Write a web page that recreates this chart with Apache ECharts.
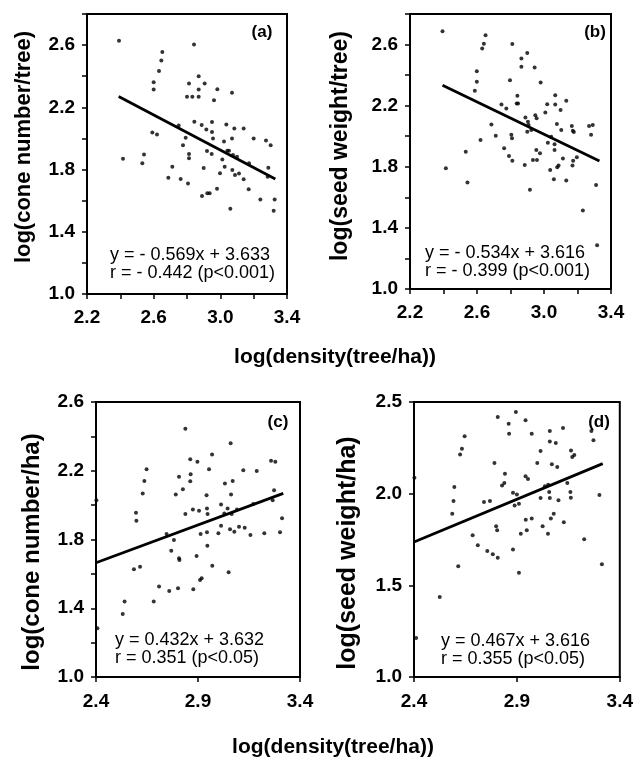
<!DOCTYPE html>
<html>
<head>
<meta charset="utf-8">
<script src="https://cdn.jsdelivr.net/npm/echarts@6/dist/echarts.min.js"></script>
<style>html,body{margin:0;padding:0;background:#fff;}#c{width:636px;height:757px;}</style>
</head>
<body>
<div id="c"></div>
<script>
// (a) log(cone number/tree) vs log(density)
var pointsA = [[2.392,2.628],[2.416,1.870],[2.532,1.840],[2.542,1.897],[2.592,2.039],[2.620,2.026],[2.600,2.362],[2.600,2.315],[2.632,2.433],[2.646,2.501],[2.652,2.555],[2.688,1.747],[2.712,1.818],[2.750,2.084],[2.762,1.739],[2.776,1.957],[2.792,2.004],[2.806,1.711],[2.812,1.900],[2.812,1.872],[2.800,2.268],[2.812,2.354],[2.832,2.268],[2.842,2.604],[2.844,2.107],[2.870,2.400],[2.870,2.315],[2.870,2.268],[2.890,1.630],[2.888,2.086],[2.900,1.810],[2.906,2.354],[2.916,2.058],[2.920,1.919],[2.922,1.647],[2.936,1.647],[2.948,1.900],[2.950,2.105],[2.950,2.041],[2.956,2.000],[2.962,2.246],[2.980,1.677],[2.982,2.317],[2.998,1.777],[3.012,1.865],[3.022,1.981],[3.026,1.818],[3.036,2.090],[3.042,1.921],[3.052,1.921],[3.060,1.548],[3.070,2.294],[3.070,2.000],[3.072,1.797],[3.076,1.893],[3.084,2.064],[3.088,1.765],[3.100,1.882],[3.112,1.775],[3.140,2.064],[3.140,1.737],[3.170,1.673],[3.172,1.840],[3.200,2.000],[3.240,1.608],[3.274,1.987],[3.284,1.754],[3.288,1.812],[3.302,1.957],[3.320,1.535],[3.326,1.608]];
var lineA = [[2.39,2.270],[3.33,1.740]];
// (b) log(seed weight/tree)
var pointsB = [[2.394,2.687],[2.414,1.790],[2.533,1.899],[2.543,1.697],[2.587,2.297],[2.599,2.356],[2.599,2.426],[2.621,1.975],[2.631,2.574],[2.641,2.606],[2.651,2.661],[2.686,2.077],[2.712,2.003],[2.746,2.208],[2.762,1.921],[2.775,2.182],[2.791,1.871],[2.797,2.367],[2.805,2.010],[2.809,1.986],[2.811,2.604],[2.811,1.840],[2.837,2.215],[2.841,2.265],[2.845,2.215],[2.865,2.508],[2.865,2.454],[2.885,1.812],[2.889,2.123],[2.900,2.545],[2.904,2.095],[2.908,2.073],[2.900,2.030],[2.916,1.649],[2.924,2.040],[2.934,1.845],[2.944,2.450],[2.948,2.138],[2.956,2.117],[2.954,1.910],[2.958,1.845],[2.976,1.888],[2.980,2.352],[3.008,2.156],[3.019,2.210],[3.023,1.958],[3.037,1.779],[3.043,1.997],[3.059,1.718],[3.063,1.947],[3.063,1.910],[3.067,2.269],[3.067,2.208],[3.077,2.080],[3.079,1.797],[3.087,1.808],[3.099,2.171],[3.103,2.040],[3.113,1.855],[3.133,2.232],[3.133,1.710],[3.166,2.067],[3.172,2.036],[3.174,1.840],[3.170,1.808],[3.178,2.027],[3.196,1.862],[3.232,1.514],[3.269,2.067],[3.281,2.010],[3.291,2.073],[3.311,1.681],[3.317,1.287]];
var lineB = [[2.394,2.334],[3.331,1.838]];
// (c) log(cone number/ha)
var pointsC = [[2.407,1.284],[2.402,2.029],[2.531,1.366],[2.540,1.439],[2.586,1.627],[2.616,1.642],[2.596,1.956],[2.598,1.909],[2.629,2.068],[2.637,2.141],[2.648,2.209],[2.683,1.439],[2.709,1.526],[2.759,1.501],[2.746,1.832],[2.769,1.735],[2.782,1.797],[2.791,2.062],[2.802,1.517],[2.807,2.165],[2.807,1.691],[2.809,1.681],[2.826,2.093],[2.838,1.948],[2.838,2.445],[2.862,2.267],[2.864,2.180],[2.862,2.139],[2.875,1.975],[2.877,1.511],[2.893,1.704],[2.897,2.252],[2.905,1.967],[2.910,1.565],[2.918,1.575],[2.913,1.832],[2.942,2.058],[2.944,1.981],[2.944,1.842],[2.947,1.948],[2.954,2.209],[2.946,1.764],[2.969,2.294],[2.970,1.648],[3.000,1.836],[3.013,2.004],[3.013,1.880],[3.029,1.952],[3.032,2.126],[3.045,1.981],[3.050,1.609],[3.057,1.859],[3.060,2.360],[3.062,2.062],[3.065,1.948],[3.070,2.141],[3.078,1.845],[3.091,1.975],[3.101,1.874],[3.122,2.203],[3.129,1.869],[3.157,1.826],[3.171,2.006],[3.188,2.198],[3.225,1.836],[3.258,2.258],[3.266,2.029],[3.273,2.087],[3.279,2.252],[3.302,1.842],[3.312,1.923]];
var lineC = [[2.40,1.665],[3.318,2.068]];
// (d) log(seed weight/ha)
var pointsD = [[2.410,1.213],[2.402,2.087],[2.525,1.436],[2.586,1.891],[2.592,1.960],[2.596,2.036],[2.615,1.604],[2.624,2.213],[2.633,2.245],[2.646,2.313],[2.685,1.773],[2.710,1.718],[2.740,1.955],[2.769,1.960],[2.756,1.687],[2.783,1.669],[2.791,2.167],[2.799,1.822],[2.804,1.800],[2.807,1.651],[2.807,2.418],[2.828,2.045],[2.839,2.058],[2.842,2.109],[2.860,2.382],[2.862,2.327],[2.881,1.695],[2.881,2.005],[2.895,2.445],[2.889,1.935],[2.900,1.996],[2.910,1.569],[2.910,1.945],[2.919,1.782],[2.942,2.400],[2.942,2.095],[2.954,2.080],[2.943,1.858],[2.948,1.800],[2.972,2.327],[2.972,1.864],[2.999,2.167],[3.015,2.233],[3.015,1.976],[3.025,1.822],[3.036,2.040],[3.051,1.782],[3.052,2.049],[3.057,2.009],[3.060,2.342],[3.060,2.285],[3.060,1.976],[3.065,1.864],[3.070,2.160],[3.079,1.891],[3.089,2.276],[3.096,2.145],[3.102,1.964],[3.124,2.358],[3.128,1.844],[3.145,2.058],[3.160,2.009],[3.162,1.978],[3.163,2.236],[3.169,2.200],[3.179,2.211],[3.227,1.751],[3.262,2.342],[3.272,2.291],[3.301,1.993],[3.313,1.615]];
var lineD = [[2.40,1.736],[3.317,2.164]];

var yNames = ['log(cone number/tree)','log(seed weight/tree)','log(cone number/ha)','log(seed weight/ha)'];
var xName = 'log(density(tree/ha))';
var panelTags = ['(a)','(b)','(c)','(d)'];
var eqLines = [
  ['y = - 0.569x + 3.633','r = - 0.442 (p<0.001)'],
  ['y = - 0.534x + 3.616','r = - 0.399 (p<0.001)'],
  ['y = 0.432x + 3.632','r = 0.351 (p<0.05)'],
  ['y = 0.467x + 3.616','r = 0.355 (p<0.05)']
];

var FF = "'Liberation Sans', Arial, sans-serif";
function everyOther(v){ return (Math.round(v*10) % 4 === 2) ? v.toFixed(1) : ''; }
function plain(v){ return v.toFixed(1); }

var grids = [
  {left:87, top:14, width:200, height:280},
  {left:410, top:14, width:201, height:275},
  {left:96, top:402, width:204, height:275},
  {left:414, top:402, width:208, height:275}
];
grids.forEach(function(g){ g.show = true; g.borderColor = '#000'; g.borderWidth = 2; g.backgroundColor='transparent'; });

var axisCommon = {
  axisLine:{show:true, onZero:false, lineStyle:{color:'#000', width:2}},
  axisTick:{show:true, length:5, lineStyle:{color:'#000', width:1.5}},
  splitLine:{show:false},
  axisLabel:{color:'#000', fontFamily:FF, fontWeight:'bold', fontSize:19, showMinLabel:true, showMaxLabel:true}
};
function mk(extra){ var o = JSON.parse(JSON.stringify(axisCommon)); for (var k in extra){ if (typeof extra[k]==='object' && o[k]) { for (var kk in extra[k]) o[k][kk]=extra[k][kk]; } else o[k]=extra[k]; } return o; }

var xAxes = [
  mk({type:'value', gridIndex:0, min:2.2, max:3.4, interval:0.2, axisLabel:{formatter:everyOther, margin:14}}),
  mk({type:'value', gridIndex:1, min:2.2, max:3.4, interval:0.2, axisLabel:{formatter:everyOther, margin:14}}),
  mk({type:'value', gridIndex:2, min:2.4, max:3.4, interval:0.5, axisLabel:{formatter:plain, margin:15}}),
  mk({type:'value', gridIndex:3, min:2.4, max:3.4, interval:0.5, axisLabel:{formatter:plain, margin:15}})
];
var yAxes = [
  mk({type:'value', gridIndex:0, min:1.0, max:2.8, interval:0.2, axisLabel:{formatter:everyOther, margin:12}}),
  mk({type:'value', gridIndex:1, min:1.0, max:2.8, interval:0.2, axisLabel:{formatter:everyOther, margin:12}}),
  mk({type:'value', gridIndex:2, min:1.0, max:2.6, interval:0.2, axisLabel:{formatter:everyOther, margin:12}}),
  mk({type:'value', gridIndex:3, min:1.0, max:2.5, interval:0.5, axisLabel:{formatter:plain, margin:12}})
];

var pts = [pointsA, pointsB, pointsC, pointsD];
var lines = [lineA, lineB, lineC, lineD];
var series = [];
pts.forEach(function(p, i){
  series.push({type:'scatter', xAxisIndex:i, yAxisIndex:i, data:p, symbol:'circle', symbolSize:4, itemStyle:{color:'#000'}, silent:true, z:3});
  series.push({type:'line', xAxisIndex:i, yAxisIndex:i, data:lines[i], showSymbol:false, symbol:'none', lineStyle:{color:'#000', width:2.8}, silent:true, z:4});
});

var tagPos = [[262,32],[595,32],[278,422],[599,422]];
var eqPos = [[110,255,273],[425,253,271],[115,640,658],[441,641,659]];
var yNamePos = [[24,147,22],[341,146,23],[32,552,24],[348,553,25]];
var graphic = [];
panelTags.forEach(function(t, i){
  graphic.push({type:'text', x: tagPos[i][0], y: tagPos[i][1], style:{text:t, font:'bold 17px '+FF, fill:'#000', align:'center', verticalAlign:'middle'}});
});
eqLines.forEach(function(l, i){
  graphic.push({type:'text', x:eqPos[i][0], y:eqPos[i][1], style:{text:l[0], font:'18px '+FF, fill:'#000', align:'left', verticalAlign:'middle'}});
  graphic.push({type:'text', x:eqPos[i][0], y:eqPos[i][2], style:{text:l[1], font:'18px '+FF, fill:'#000', align:'left', verticalAlign:'middle'}});
});
yNames.forEach(function(n, i){
  graphic.push({type:'text', x:yNamePos[i][0], y:yNamePos[i][1], rotation:Math.PI/2, style:{text:n, font:'bold '+yNamePos[i][2]+'px '+FF, fill:'#000', align:'center', verticalAlign:'middle'}});
});
graphic.push({type:'text', x:335, y:357, style:{text:xName, font:'bold 21px '+FF, fill:'#000', align:'center', verticalAlign:'middle'}});
graphic.push({type:'text', x:333, y:747, style:{text:xName, font:'bold 21px '+FF, fill:'#000', align:'center', verticalAlign:'middle'}});

var chart = echarts.init(document.getElementById('c'), null, {renderer:'canvas'});
chart.setOption({
  animation:false,
  backgroundColor:'#fff',
  grid:grids,
  xAxis:xAxes,
  yAxis:yAxes,
  series:series,
  graphic:graphic
});
</script>
</body>
</html>
